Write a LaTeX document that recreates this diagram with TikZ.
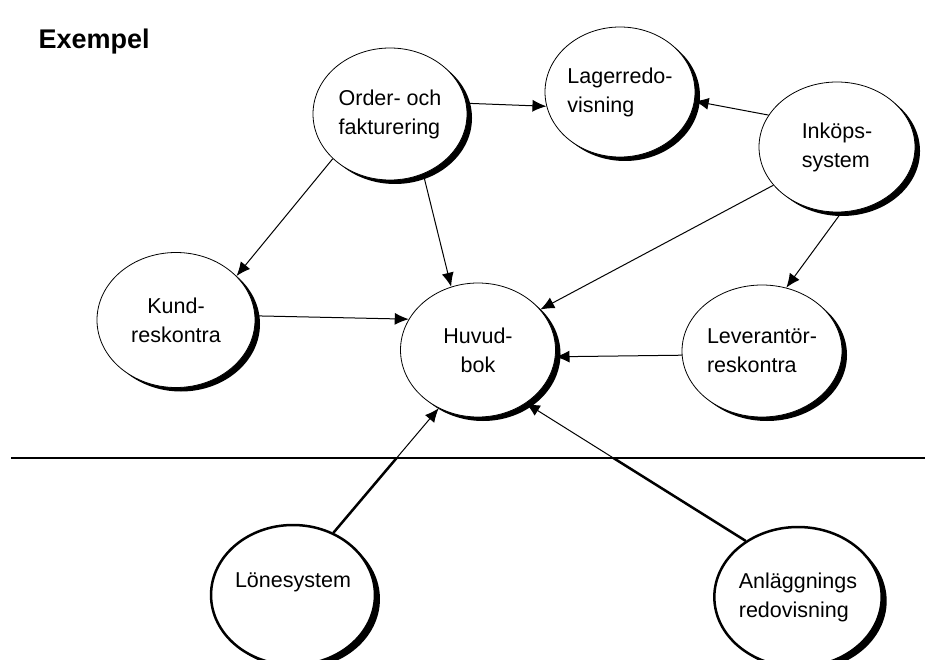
\documentclass[tikz,border=0pt]{standalone}
\usepackage{fontspec}
\setmainfont{Liberation Sans}
\usetikzlibrary{shapes.geometric,shadows,arrows.meta}

\begin{document}
\begin{tikzpicture}[
    x=1pt, y=-1pt,
    bubble/.style={ellipse,draw,fill=white,line width=0.8pt,inner sep=0pt,
      general shadow={fill=black,shadow xshift=5pt,shadow yshift=-4pt},
      align=left,font=\fontsize{21.5}{29}\selectfont},
    heavy/.style={bubble,line width=2.5pt},
    arr/.style={-{Latex[length=14pt,width=12pt]},line width=1pt}
    ]
    \useasboundingbox (0,0) rectangle (925,660);

    % title:
    \node (title) [anchor=base west,font=\fontsize{27}{32}\selectfont\bfseries] at (35,49) {Exempel};

    % upper part:
    \node (order) at (390,114) [bubble,minimum width=154pt,minimum height=132pt] {Order- och\\fakturering};
    \node (lager) at (620,92) [bubble,minimum width=150pt,minimum height=130pt] {Lagerredo-\\visning};
    \node (inkop) at (837,147) [bubble,minimum width=156pt,minimum height=130pt] {Inköps-\\system};
    \node (kund) at (176,320) [bubble,align=center,minimum width=158pt,minimum height=135pt] {Kund-\\reskontra};
    \node (huvud) at (478,350) [bubble,align=center,minimum width=155pt,minimum height=134pt] {Huvud-\\bok};
    \node (lev) at (762,351) [bubble,minimum width=160pt,minimum height=132pt] {Leverantör-\\reskontra};

    % lower part:
    \node (lon) at (293,595) [heavy,minimum width=160pt,minimum height=140pt] {Lönesystem\\~};
    \node (anl) at (798,597) [heavy,minimum width=163pt,minimum height=140pt] {Anläggnings\\redovisning};

    % divider:
    \coordinate (divl) at (11,458);
    \coordinate (divr) at (925,458);
    \draw [line width=1.5pt] (divl) -- (divr);

    \draw [arr] (order.8) -- (lager.191);
    \draw [arr] (inkop.155) -- (lager.-7);
    \draw [arr] (order.218) -- (kund.36);
    \draw [arr] (order.-61) -- (huvud.113);
    \draw [arr] (inkop.211) -- (huvud.33);
    \draw [arr] (inkop.-86) -- (lev.69);
    \draw [arr] (kund.3) -- (huvud.156);
    \draw [arr] (lev.183) -- (huvud.-5);
    \draw [arr] (lon.57) -- (huvud.236);
    \draw [arr] (anl.133) -- (huvud.-48);

    % thicker below the divider:
    \begin{scope}
      \clip (0,458) rectangle (925,660);
      \draw [line width=2.5pt] (lon.57) -- (huvud.236);
      \draw [line width=2.5pt] (anl.133) -- (huvud.-48);
    \end{scope}

\end{tikzpicture}
\end{document}
